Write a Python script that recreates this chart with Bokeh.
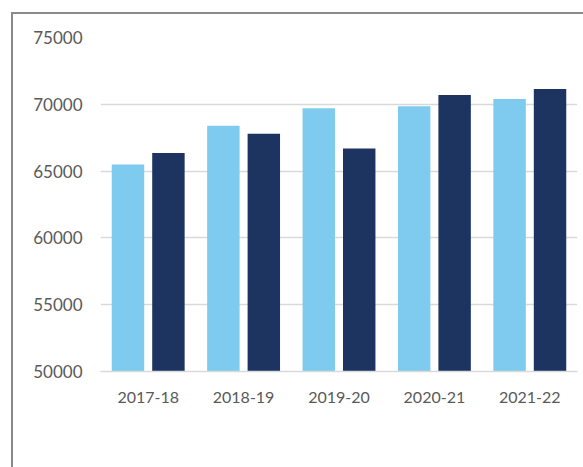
from bokeh.plotting import figure
from bokeh.models import (Range1d, FixedTicker, ColumnDataSource, Legend, LegendItem,
                          NumeralTickFormatter)
from bokeh.transform import dodge
from bokeh.embed import file_html
from bokeh.resources import INLINE

years = ["2017-18", "2018-19", "2019-20", "2020-21", "2021-22"]
applications = [65500, 68400, 69700, 69850, 70400]
finalisations = [66350, 67800, 66700, 70700, 71150]
y_ticks = [50000, 55000, 60000, 65000, 70000, 75000]

FONT = "Lato"
TEXT = "#595959"

source = ColumnDataSource(dict(year=years, applications=applications,
                               finalisations=finalisations))

p = figure(x_range=years, y_range=Range1d(50000, 75000),
           frame_width=477, frame_height=334,
           output_backend="svg", toolbar_location=None,
           min_border_left=87, min_border_right=6, min_border_top=23,
           min_border_bottom=96)
p.styles = {"margin-left": "11px", "margin-top": "12px",
            "border-left": "2px solid #8a8a8a", "border-top": "2px solid #8a8a8a"}
p.outline_line_color = None

r1 = p.vbar(x=dodge("year", -0.212, range=p.x_range), top="applications", bottom=50000,
            width=0.34, source=source, fill_color="#7FCBEF", line_color=None)
r2 = p.vbar(x=dodge("year", 0.212, range=p.x_range), top="finalisations", bottom=50000,
            width=0.34, source=source, fill_color="#1D3461", line_color=None)
# empty, invisible renderer used only to balance the legend's width
r3 = p.vbar(x=[], top=[], bottom=50000, width=0.34, fill_alpha=0, line_alpha=0)

p.xgrid.grid_line_color = None
p.ygrid.grid_line_color = "#d9d9d9"
p.ygrid.grid_line_width = 1.3
p.yaxis.ticker = FixedTicker(ticks=y_ticks)
p.yaxis.formatter = NumeralTickFormatter(format="0")
p.yaxis.axis_line_color = None
p.yaxis.major_tick_line_color = None
p.yaxis.minor_tick_line_color = None
p.yaxis.major_label_standoff = 18
p.xaxis.axis_line_color = "#d9d9d9"
p.xaxis.axis_line_width = 1.3
p.xaxis.major_tick_line_color = None
p.xaxis.minor_tick_line_color = None
p.xaxis.major_label_standoff = 20
for ax, fs in ((p.xaxis[0], "16px"), (p.yaxis[0], "17px")):
    ax.major_label_text_font = FONT
    ax.major_label_text_font_size = fs
    ax.major_label_text_color = TEXT
    ax.major_tick_out = 0
    ax.major_tick_in = 0

legend = Legend(items=[LegendItem(label="Applications", renderers=[r1]),
                       LegendItem(label="Finalisations", renderers=[r2]),
                       LegendItem(label="", renderers=[r3])],
                orientation="horizontal", location="top_center",
                glyph_width=12, glyph_height=12, label_standoff=4,
                label_width=92, spacing=17,
                padding=0, margin=23, border_line_color=None, background_fill_alpha=0,
                label_text_font=FONT, label_text_font_size="16px",
                label_text_color=TEXT)
p.add_layout(legend, "below")

open("out.html", "w").write(file_html(p, INLINE))
